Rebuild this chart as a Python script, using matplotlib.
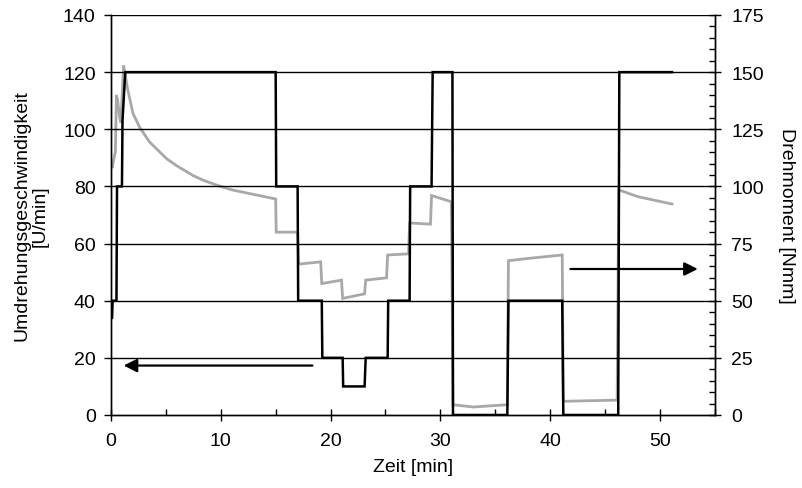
import numpy as np
import matplotlib.pyplot as plt
from matplotlib.ticker import MultipleLocator

plt.rcParams['font.family'] = ['Liberation Sans', 'DejaVu Sans']
plt.rcParams['font.size'] = 14

# speed (left axis) [U/min]
t_speed = [0.1, 0.15, 0.5, 0.55, 1.0, 1.05, 1.3, 15.0, 15.05, 17.0, 17.05, 19.2, 19.25,
           21.1, 21.15, 23.1, 23.2, 25.2, 25.25, 27.2, 27.25, 29.2, 29.3, 31.1, 31.15,
           36.1, 36.2, 41.1, 41.2, 46.2, 46.3, 51.1]
speed = [34, 40, 40, 80, 80, 103, 120, 120, 80, 80, 40, 40, 20,
         20, 10, 10, 20, 20, 40, 40, 80, 80, 120, 120, 0,
         0, 40, 40, 0, 0, 120, 120]

# torque (right axis) [Nmm]
t_torque = [0.0, 0.1, 0.3, 0.4, 0.5, 0.6, 0.8, 0.9, 1.15, 1.5, 2.0, 2.6, 3.5,
            5.1, 6.0, 7.5, 8.5, 9.8, 11.0, 12.0, 13.0, 14.0, 15.0, 15.05, 17.0, 17.1,
            19.1, 19.2, 21.0, 21.1, 23.1, 23.2, 25.1, 25.2, 27.1, 27.2, 29.1, 29.2,
            31.0, 31.15, 33.0, 36.1, 36.2, 38.0, 41.1, 41.2, 46.1, 46.25, 48.0, 51.1]
torque = [110, 108, 113, 115, 140, 138, 130, 128, 153, 143, 132, 126, 119.5,
          112, 109, 104.7, 102.5, 100.3, 98.5, 97.5, 96.5, 95.5, 94.5, 80, 80, 66,
          67, 57.5, 59, 51, 53, 59, 60, 70, 70.5, 84, 83.5, 96,
          93.3, 4.5, 3.5, 4.5, 67.5, 68.5, 70, 6, 6.5, 98.5, 95.5, 92.3]

fig = plt.figure(figsize=(8.03, 4.89), dpi=100)
ax1 = fig.add_axes([0.1382, 0.1493, 0.752, 0.818])
ax2 = ax1.twinx()
ax1.set_zorder(ax2.get_zorder() + 1)
ax1.patch.set_visible(False)

ax2.plot(t_torque, torque, color='#a8a8a8', lw=2.0, solid_joinstyle='miter')
ax1.plot(t_speed, speed, color='black', lw=1.8, solid_joinstyle='miter')

ax1.set_xlim(0, 55)
ax1.set_ylim(0, 140)
ax2.set_ylim(0, 175)

ax1.xaxis.set_major_locator(MultipleLocator(10))
ax1.xaxis.set_minor_locator(MultipleLocator(5))
ax1.yaxis.set_major_locator(MultipleLocator(20))
ax2.yaxis.set_major_locator(MultipleLocator(25))
ax2.yaxis.set_minor_locator(MultipleLocator(5))

ax1.tick_params(axis='x', which='major', direction='inout', length=8, width=1, pad=8)
ax1.tick_params(axis='x', which='minor', direction='in', length=4, width=1)
ax1.tick_params(axis='y', which='major', direction='out', length=5, width=1, pad=6)
ax2.tick_params(axis='y', which='major', direction='inout', length=8, width=1, pad=8)
ax2.tick_params(axis='y', which='minor', direction='in', length=4, width=1)

for y in range(20, 141, 20):
    ax1.axhline(y, color='black', lw=1, zorder=0.5)

for ax in (ax1, ax2):
    for s in ax.spines.values():
        s.set_linewidth(1)
ax1.spines['top'].set_visible(False)
ax2.spines['top'].set_visible(False)

ax1.set_xlabel('Zeit [min]', labelpad=7)
ax1.set_ylabel('Umdrehungsgeschwindigkeit\n[U/min]', labelpad=10, linespacing=1.1)
ax2.set_ylabel('Drehmoment [Nmm]', rotation=-90, labelpad=22)

# arrows pointing to the matching axis
ax1.annotate('', xy=(0.9, 17.3), xytext=(18.6, 17.3),
             arrowprops=dict(arrowstyle='-|>', color='black', lw=1.6, mutation_scale=20))
ax1.annotate('', xy=(53.7, 51.1), xytext=(41.6, 51.1),
             arrowprops=dict(arrowstyle='-|>', color='black', lw=1.6, mutation_scale=20))

fig.savefig('out.png', dpi=100)
